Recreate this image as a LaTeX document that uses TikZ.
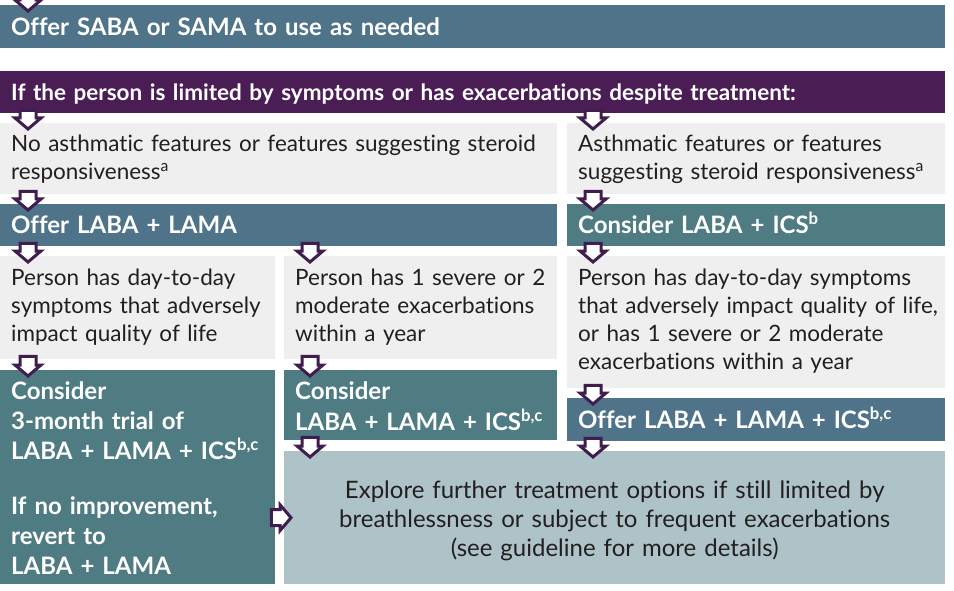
\documentclass[tikz,border=0pt]{standalone}
\usepackage{fontspec}
\setmainfont{Lato}[Ligatures=NoCommon]
\usetikzlibrary{calc, positioning}

\definecolor{steelblue}{HTML}{4F7389}
\definecolor{plum}{HTML}{4A1E55}
\definecolor{tealbox}{HTML}{4F7C83}
\definecolor{greybox}{HTML}{EFEFEF}
\definecolor{mistbox}{HTML}{ADC3C8}
\definecolor{arrowplum}{HTML}{3F1E4F}
\definecolor{bodytext}{HTML}{231F20}

% lines that never rebreak, lowered a little
\newcommand{\boxlines}[2][1pt]{\raisebox{-#1}[\height][\depth]{\begin{tabular}{@{}l@{}}#2\end{tabular}}}
\newcommand{\midlines}[2][4pt]{\raisebox{-#1}[\height][\depth]{\begin{tabular}{@{}c@{}}#2\end{tabular}}}

\begin{document}
\begin{tikzpicture}[x=1pt, y=-1pt]
    \tikzstyle{box} = [rectangle, anchor=north west, inner xsep=11pt, inner ysep=0pt, align=left]
    \tikzstyle{bluebox} = [box, fill=steelblue, text=white, font=\fontsize{24}{30}\selectfont\bfseries]
    \tikzstyle{tealbox} = [box, fill=tealbox, text=white, font=\fontsize{24}{30}\selectfont\bfseries]
    \tikzstyle{plumbox} = [box, fill=plum, text=white, font=\fontsize{22.5}{28}\selectfont\bfseries, text height=16pt, text depth=0pt]
    \tikzstyle{greybox} = [box, fill=greybox, text=bodytext, font=\fontsize{22.5}{28}\selectfont]
    \tikzstyle{mistbox} = [box, fill=mistbox, text=bodytext, align=center, font=\fontsize{24}{29}\selectfont]
    \tikzstyle{oneline} = [text height=17pt, text depth=0pt]
    \tikzstyle{blockarr} = [draw=arrowplum, fill=white, line width=3pt, to path={
        ($(\tikztostart)!8pt!-90:(\tikztotarget)$) -- ($(\tikztostart)!8pt!90:(\tikztotarget)$)
        -- ($(\tikztotarget)!11pt!(\tikztostart)!8pt!90:(\tikztotarget)$)
        -- ($(\tikztotarget)!11pt!(\tikztostart)!13pt!90:(\tikztotarget)$)
        -- (\tikztotarget)
        -- ($(\tikztotarget)!11pt!(\tikztostart)!13pt!-90:(\tikztotarget)$)
        -- ($(\tikztotarget)!11pt!(\tikztostart)!8pt!-90:(\tikztotarget)$) -- cycle}]

    \path[use as bounding box, fill=white] (0,0) rectangle (954,591);

    \node [bluebox, oneline, minimum width=945, text width=923, minimum height=43] (saba) at (0,5) {Offer SABA or SAMA to use as needed};
    \node [plumbox, minimum width=945, text width=923, minimum height=42] (limited) at (0,71) {If the person is limited by symptoms or has exacerbations despite treatment:};

    % two branches
    \node [greybox, minimum width=557, text width=535, minimum height=71] (noasth) at (0,123) {\boxlines{No asthmatic features or features suggesting steroid\\responsiveness\textsuperscript{a}}};
    \node [greybox, minimum width=378, text width=356, minimum height=71] (asth) at (567,123) {\boxlines{Asthmatic features or features\\suggesting steroid responsiveness\textsuperscript{a}}};
    \node [bluebox, oneline, minimum width=557, text width=535, minimum height=42] (offerll) at (0,204) {Offer LABA + LAMA};
    \node [tealbox, oneline, minimum width=378, text width=356, minimum height=42] (considerli) at (567,204) {Consider LABA + ICS\textsuperscript{b}};

    \node [greybox, minimum width=275, text width=253, minimum height=103] (daytoday) at (0,256) {\boxlines[0pt]{Person has day-to-day\\symptoms that adversely\\impact quality of life}};
    \node [greybox, minimum width=273, text width=251, minimum height=103] (severe) at (284,256) {\boxlines[0pt]{Person has 1 severe or 2\\moderate exacerbations\\within a year}};
    \node [greybox, minimum width=378, text width=356, minimum height=132] (either) at (567,256) {\boxlines[0pt]{Person has day-to-day symptoms\\that adversely impact quality of life,\\or has 1 severe or 2 moderate\\exacerbations within a year}};

    \node [tealbox, minimum width=275, text width=253, minimum height=214] (trial) at (0,370) {\boxlines[4pt]{Consider\\3-month trial of\\LABA + LAMA + ICS\textsuperscript{b,c}\\[25pt]If no improvement,\\revert to\\LABA + LAMA}};
    \node [tealbox, minimum width=273, text width=251, minimum height=70] (considerlli) at (284,370) {\boxlines[4pt]{Consider\\LABA + LAMA + ICS\textsuperscript{b,c}}};
    \node [bluebox, oneline, minimum width=378, text width=356, minimum height=43] (offerlli) at (567,398) {Offer LABA + LAMA + ICS\textsuperscript{b,c}};
    \node [mistbox, minimum width=661, text width=639, minimum height=133] (explore) at (284,451) {\midlines{Explore further treatment options if still limited by\\breathlessness or subject to frequent exacerbations\\(see guideline for more details)}};

    % arrow columns
    \coordinate (colA) at (28,0);
    \coordinate (colB) at (310,0);
    \coordinate (colC) at (593,0);
    \coordinate (prev) at (28,-14);

    \draw [blockarr] (prev) to ($(saba.north -| colA)+(0,6)$);
    \draw [blockarr] ($(limited.south -| colA)+(0,-3)$) to ($(noasth.north -| colA)+(0,6)$);
    \draw [blockarr] ($(limited.south -| colC)+(0,-3)$) to ($(asth.north -| colC)+(0,6)$);
    \draw [blockarr] ($(noasth.south -| colA)+(0,-3)$) to ($(offerll.north -| colA)+(0,6)$);
    \draw [blockarr] ($(asth.south -| colC)+(0,-3)$) to ($(considerli.north -| colC)+(0,6)$);
    \draw [blockarr] ($(offerll.south -| colA)+(0,-3)$) to ($(daytoday.north -| colA)+(0,6)$);
    \draw [blockarr] ($(offerll.south -| colB)+(0,-3)$) to ($(severe.north -| colB)+(0,6)$);
    \draw [blockarr] ($(considerli.south -| colC)+(0,-3)$) to ($(either.north -| colC)+(0,6)$);
    \draw [blockarr] ($(daytoday.south -| colA)+(0,-3)$) to ($(trial.north -| colA)+(0,6)$);
    \draw [blockarr] ($(severe.south -| colB)+(0,-3)$) to ($(considerlli.north -| colB)+(0,6)$);
    \draw [blockarr] ($(either.south -| colC)+(0,-3)$) to ($(offerlli.north -| colC)+(0,6)$);
    \draw [blockarr] ($(considerlli.south -| colB)+(0,-3)$) to ($(explore.north -| colB)+(0,6)$);
    \draw [blockarr] ($(offerlli.south -| colC)+(0,-3)$) to ($(explore.north -| colC)+(0,6)$);
    \draw [blockarr] ($(trial.east |- explore.west)+(-4,0)$) to ($(explore.west)+(7,0)$);
\end{tikzpicture}
\end{document}
